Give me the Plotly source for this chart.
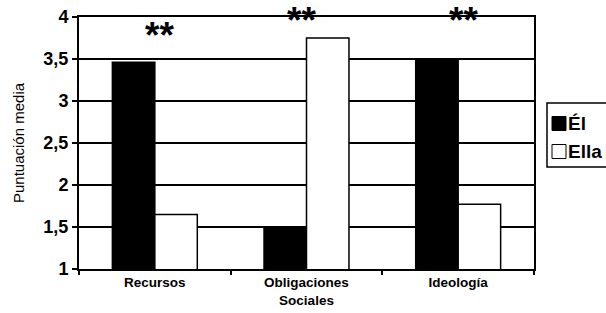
import plotly.graph_objects as go

categories = ["Recursos", "Obligaciones<br>Sociales", "Ideología"]
series_names = ["Él", "Ella"]
el_values = [3.46, 1.49, 3.49]
ella_values = [1.65, 3.75, 1.77]
sig_labels = ["**", "**", "**"]
sig_y = [3.82, 4.0, 4.0]
y_ticks = [1, 1.5, 2, 2.5, 3, 3.5, 4]
y_ticktext = ["<b>" + (f"{v:g}").replace(".", ",") + "</b>" for v in y_ticks]

FONT = "Liberation Sans, Arial, sans-serif"

fig = go.Figure()
fig.add_trace(go.Bar(x=categories, y=el_values, name=series_names[0],
                     marker=dict(color="black", line=dict(color="black", width=1.5)),
                     showlegend=False))
fig.add_trace(go.Bar(x=categories, y=ella_values, name=series_names[1],
                     marker=dict(color="white", line=dict(color="black", width=1.5)),
                     showlegend=False))

xshifts = [5, -5, 5]
for c, lab, yy, xs in zip(categories, sig_labels, sig_y, xshifts):
    fig.add_annotation(x=c, y=yy, text="<b>" + lab + "</b>", showarrow=False, xref="x", yref="y",
                       xshift=xs, yshift=-3, yanchor="middle",
                       font=dict(family=FONT, size=37, color="black"))

# plot area pixel helpers (plot area spans x 79..534, y 17..269)
def px_x(p):
    return (p - 79) / 455.0

def px_y(p):
    return (269 - p) / 252.0

# y-axis title
fig.add_annotation(x=px_x(18), y=0.5, xref="paper", yref="paper", text="Puntuación media",
                   textangle=-90, showarrow=False, xanchor="center", yanchor="middle",
                   font=dict(family=FONT, size=15, color="black"))

# manual legend (box, swatches, labels) in paper coords
fig.add_shape(type="rect", xref="paper", yref="paper",
              x0=px_x(547), x1=px_x(640), y0=px_y(167), y1=px_y(103),
              line=dict(color="black", width=1.5), fillcolor="white", layer="above")
swatch_fill = ["black", "white"]
rows = [123.5, 151.5]
for name, fill, cy in zip(series_names, swatch_fill, rows):
    fig.add_shape(type="rect", xref="paper", yref="paper",
                  x0=px_x(552), x1=px_x(566), y0=px_y(cy + 7), y1=px_y(cy - 7),
                  line=dict(color="black", width=1), fillcolor=fill, layer="above")
    fig.add_annotation(x=px_x(566), y=px_y(cy), xref="paper", yref="paper",
                       text="<b>" + name + "</b>", showarrow=False, xanchor="left", yanchor="middle",
                       font=dict(family=FONT, size=19, color="black"))

fig.update_layout(
    width=606, height=313,
    margin=dict(l=79, r=72, t=17, b=44, pad=0),
    paper_bgcolor="white", plot_bgcolor="white",
    barmode="group", bargap=0.44, bargroupgap=0,
    font=dict(family=FONT, color="black"),
    showlegend=False,
)
fig.update_xaxes(
    automargin=False,
    showline=True, linecolor="black", linewidth=2, mirror=True,
    ticks="outside", ticklen=4, tickwidth=1.5, tickcolor="black",
    tickson="boundaries", showgrid=False,
    tickfont=dict(family=FONT, size=13.5, color="black", weight="bold"),
)
fig.update_yaxes(
    automargin=False,
    range=[1, 4], tickmode="array", tickvals=y_ticks, ticktext=y_ticktext,
    showline=True, linecolor="black", linewidth=2, mirror=True,
    ticks="outside", ticklen=5, tickwidth=1.5, tickcolor="black",
    showgrid=True, gridcolor="black", gridwidth=1.5,
    tickfont=dict(family=FONT, size=18, color="black"),
)

fig.write_html(
    "out.html",
    config={"displayModeBar": False},
    post_script="document.body.style.margin='0';document.body.style.overflow='hidden';",
)
